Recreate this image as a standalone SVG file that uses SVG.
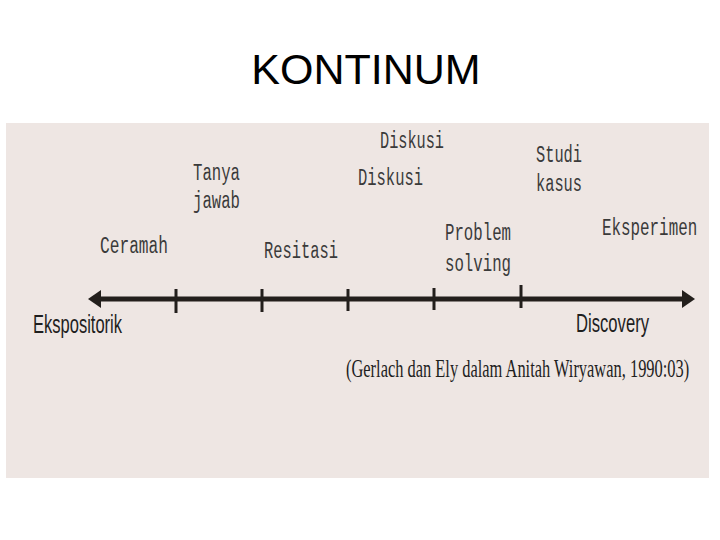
<svg xmlns="http://www.w3.org/2000/svg" width="720" height="540" viewBox="0 0 720 540">
<style>
.m{font-family:"Liberation Mono","DejaVu Sans Mono",monospace;font-size:23px;fill:#3a3a3a}
.s{font-family:"Liberation Sans",Arial,sans-serif;font-size:25px;fill:#1e1e1e}
.t{font-family:"Liberation Serif","Times New Roman",serif;font-size:26px;fill:#1e1e1e}
.tick{stroke:#231f1c;stroke-width:3}
</style>
<rect width="720" height="540" fill="#ffffff"/>
<text x="366" y="84" text-anchor="middle" font-family="Liberation Sans, Arial, sans-serif" font-size="43" fill="#000">KONTINUM</text>
<rect x="6" y="123" width="703" height="355" fill="#eee6e3"/>
<g id="connectors">
<line x1="100" y1="299" x2="683" y2="299" stroke="#231f1c" stroke-width="5"/>
<polygon points="88,299 101,290 101,308" fill="#231f1c"/>
<polygon points="695,299 682,290 682,308" fill="#231f1c"/>
<line class="tick" x1="176" y1="289" x2="176" y2="313"/>
<line class="tick" x1="262" y1="289" x2="262" y2="312"/>
<line class="tick" x1="348" y1="289" x2="348" y2="311" stroke-width="2"/>
<line class="tick" x1="434" y1="288" x2="434" y2="310"/>
<line class="tick" x1="521" y1="285" x2="521" y2="308"/>
</g>
<g id="ceramah"><text class="m" x="100" y="253" textLength="68" lengthAdjust="spacingAndGlyphs">Ceramah</text></g>
<g id="tanya-jawab"><text class="m" x="193" y="180" textLength="47" lengthAdjust="spacingAndGlyphs">Tanya</text><text class="m" x="193" y="208" textLength="47" lengthAdjust="spacingAndGlyphs">jawab</text></g>
<g id="resitasi"><text class="m" x="264" y="258" textLength="74" lengthAdjust="spacingAndGlyphs">Resitasi</text></g>
<g id="diskusi-1"><text class="m" x="380" y="148" textLength="64" lengthAdjust="spacingAndGlyphs">Diskusi</text></g>
<g id="diskusi-2"><text class="m" x="358" y="185" textLength="65" lengthAdjust="spacingAndGlyphs">Diskusi</text></g>
<g id="problem-solving"><text class="m" x="445" y="240" textLength="66" lengthAdjust="spacingAndGlyphs">Problem</text><text class="m" x="445" y="271" textLength="66" lengthAdjust="spacingAndGlyphs">solving</text></g>
<g id="studi-kasus"><text class="m" x="536" y="162" textLength="46" lengthAdjust="spacingAndGlyphs">Studi</text><text class="m" x="536" y="191" textLength="46" lengthAdjust="spacingAndGlyphs">kasus</text></g>
<g id="eksperimen"><text class="m" transform="translate(602,235) scale(0.7,1)" x="0" y="0" textLength="136" lengthAdjust="spacingAndGlyphs">Eksperimen</text></g>
<g id="ekspositorik"><text class="s" x="33" y="333" textLength="89" lengthAdjust="spacingAndGlyphs">Ekspositorik</text></g>
<g id="discovery"><text class="s" x="576" y="332" textLength="73" lengthAdjust="spacingAndGlyphs">Discovery</text></g>
<g id="citation"><text class="t" transform="translate(346,377) scale(0.6,1)" x="0" y="0" textLength="572" lengthAdjust="spacingAndGlyphs">(Gerlach dan Ely dalam Anitah Wiryawan,  1990:03)</text></g>
</svg>
